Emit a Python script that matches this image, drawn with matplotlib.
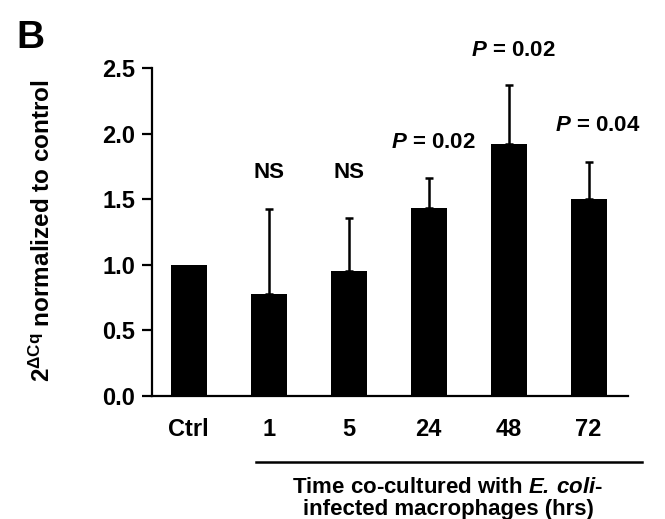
import matplotlib
matplotlib.use('Agg')
import matplotlib.pyplot as plt
import numpy as np

# values
groups = ['Ctrl', '1', '5', '24', '48', '72']
means = [1.00, 0.78, 0.955, 1.435, 1.918, 1.50]
errs = [0.0, 0.645, 0.405, 0.225, 0.45, 0.285]
labels = ['', 'NS', 'NS', r'$\mathit{P}$ = 0.02', r'$\mathit{P}$ = 0.02', r'$\mathit{P}$ = 0.04']
label_y = [0, 1.70, 1.70, 1.93, 2.63, 2.06]
label_dx = [0, 0, 0, 0.06, 0.06, 0.12]

plt.rcParams['font.family'] = 'Liberation Sans'
plt.rcParams['font.weight'] = 'bold'
plt.rcParams['mathtext.fontset'] = 'custom'
plt.rcParams['mathtext.rm'] = 'Liberation Sans'
plt.rcParams['mathtext.it'] = 'Liberation Sans:italic'
plt.rcParams['mathtext.bf'] = 'Liberation Sans:bold'
plt.rcParams['mathtext.bfit'] = 'Liberation Sans:italic:bold'


def main():
    fig = plt.figure(figsize=(6.65, 5.19), dpi=100)
    ax = fig.add_axes([0.2286, 0.237, 0.7154, 0.632])
    x = np.arange(len(groups))
    ax.bar(x, means, width=0.45, color='black', zorder=2)
    ax.errorbar(x[1:], means[1:], yerr=[np.zeros(len(x) - 1), errs[1:]],
                fmt='none', ecolor='black', elinewidth=1.8, capsize=3,
                capthick=1.8, zorder=1)

    for xi, lab, ly, dx in zip(x, labels, label_y, label_dx):
        if lab:
            ax.text(xi + dx, ly, lab, ha='center', va='center', fontsize=16,
                    fontweight='bold', clip_on=False)

    ax.set_xlim(-0.46, 5.49)
    ax.set_ylim(0, 2.5)
    ax.set_yticks(np.arange(0, 2.51, 0.5))
    ax.set_yticklabels(['%.1f' % v for v in np.arange(0, 2.51, 0.5)])
    ax.set_xticks(x)
    ax.set_xticklabels(groups)
    ax.tick_params(axis='x', length=0, pad=16, labelsize=17)
    ax.tick_params(axis='y', length=7, width=1.6, direction='out', pad=5, labelsize=17)
    for s in ['top', 'right']:
        ax.spines[s].set_visible(False)
    for s in ['left', 'bottom']:
        ax.spines[s].set_linewidth(1.6)

    ax.set_ylabel(r'$\mathbf{2}^{\Delta\mathrm{Cq}}$ normalized to control',
                  fontsize=17.5, fontweight='bold')
    ax.yaxis.set_label_coords(-0.205, 0.505)

    # bracket line under time points and the axis caption
    fig.add_artist(plt.Line2D([256 / 665, 642 / 665], [1 - 462 / 519, 1 - 462 / 519],
                              color='black', lw=1.8))
    fig.text(448 / 665, 1 - 493 / 519, r'Time co-cultured with $\mathbfit{E.\,coli}$-',
             ha='center', va='baseline', fontsize=16, fontweight='bold')
    fig.text(448 / 665, 1 - 515 / 519, 'infected macrophages (hrs)',
             ha='center', va='baseline', fontsize=16, fontweight='bold')
    fig.text(30 / 665, 1 - 38 / 519, 'B', ha='center', va='center',
             fontsize=28, fontweight='bold')

    fig.savefig('out.png', dpi=100)


if __name__ == '__main__':
    main()
